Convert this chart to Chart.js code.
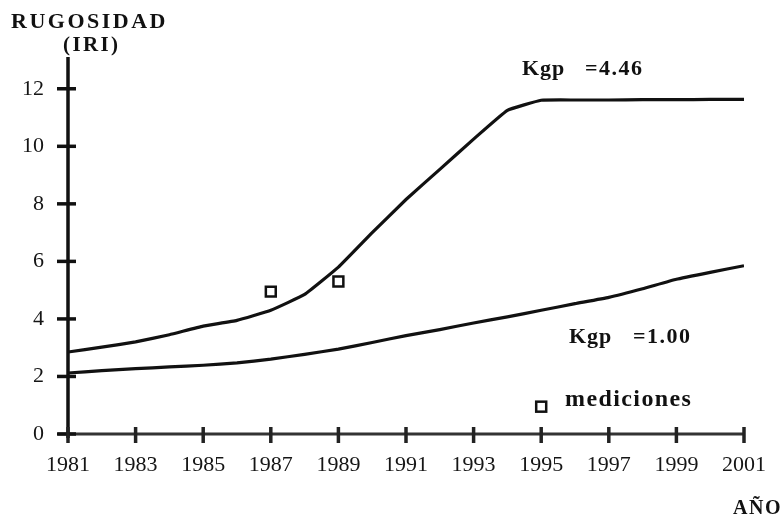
<!DOCTYPE html>
<html>
<head>
<meta charset="utf-8">
<script src="https://cdn.jsdelivr.net/npm/chart.js@4.4.1/dist/chart.umd.min.js"></script>
<style>
    html, body { margin: 0; padding: 0; background: #fff; }
    #wrap { position: relative; width: 784px; height: 518px; }
</style>
</head>
<body>
<div id="wrap"><canvas id="chart"></canvas></div>
<script>
// Data
const years = [1981, 1982, 1983, 1984, 1985, 1986, 1987, 1988, 1989, 1990, 1991,
               1992, 1993, 1994, 1995, 1996, 1997, 1998, 1999, 2000, 2001];
const kgpHigh = [2.85, 3.02, 3.2, 3.45, 3.75, 3.95, 4.3, 4.85, 5.8, 7.0, 8.15,
                 9.2, 10.25, 11.25, 11.6, 11.61, 11.61, 11.62, 11.62, 11.63, 11.63];
const kgpLow = [2.12, 2.2, 2.27, 2.33, 2.39, 2.47, 2.6, 2.77, 2.95, 3.18, 3.42,
                3.63, 3.86, 4.07, 4.3, 4.53, 4.75, 5.05, 5.38, 5.62, 5.85];
const measureYears = [1987, 1989];
const measureValues = [4.95, 5.3];
const xTicks = [1981, 1983, 1985, 1987, 1989, 1991, 1993, 1995, 1997, 1999, 2001];
const yTicks = [0, 2, 4, 6, 8, 10, 12];

const INK = '#111';
const SERIF = '"Liberation Serif", "DejaVu Serif", serif';

function drawSquare(ctx, x, y) {
    ctx.save();
    ctx.strokeStyle = INK;
    ctx.lineWidth = 2.5;
    ctx.fillStyle = '#fff';
    ctx.fillRect(x - 5, y - 5, 10, 10);
    ctx.strokeRect(x - 5, y - 5, 10, 10);
    ctx.restore();
}

function label(ctx, text, x, y, size, spacing) {
    ctx.font = `bold ${size}px ${SERIF}`;
    ctx.letterSpacing = spacing + 'px';
    ctx.fillText(text, x, y);
}

// Axes drawn as crossing tick marks, like the original figure
const axesPlugin = {
    id: 'axesPlugin',
    beforeDatasetsDraw(chart) {
        const { ctx, chartArea, scales } = chart;
        const left = chartArea.left;
        const bottom = scales.y.getPixelForValue(0);
        ctx.save();
        ctx.lineCap = 'butt';

        // x axis
        ctx.strokeStyle = '#333';
        ctx.lineWidth = 3;
        ctx.beginPath();
        ctx.moveTo(left - 10, bottom);
        ctx.lineTo(chartArea.right, bottom);
        ctx.stroke();

        // y axis
        ctx.strokeStyle = INK;
        ctx.lineWidth = 3.5;
        ctx.beginPath();
        ctx.moveTo(left, scales.y.getPixelForValue(13.1));
        ctx.lineTo(left, bottom + 4);
        ctx.stroke();

        yTicks.forEach(v => {
            const y = scales.y.getPixelForValue(v);
            ctx.beginPath();
            ctx.moveTo(left - 11, y);
            ctx.lineTo(left + 8, y);
            ctx.stroke();
        });

        ctx.strokeStyle = '#222';
        xTicks.forEach(v => {
            const x = scales.x.getPixelForValue(v);
            ctx.beginPath();
            ctx.moveTo(x, bottom - 7);
            ctx.lineTo(x, bottom + 9);
            ctx.stroke();
        });
        ctx.restore();
    },
    afterDraw(chart) {
        const { ctx, scales } = chart;
        ctx.save();
        ctx.fillStyle = INK;
        ctx.textBaseline = 'alphabetic';
        ctx.textAlign = 'left';

        label(ctx, 'RUGOSIDAD', 11, 28, 22, 2.5);
        label(ctx, '(IRI)', 63, 51, 21, 2.4);
        label(ctx, 'Kgp', 522, 75, 22, 1);
        label(ctx, '=4.46', 585, 75, 22, 1.5);
        label(ctx, 'Kgp', 569, 343, 22, 1);
        label(ctx, '=1.00', 633, 343, 22, 1.5);
        label(ctx, 'mediciones', 565, 406, 24, 1.4);
        label(ctx, 'AÑO', 733, 514, 20, 1.5);

        // legend marker for the measurements
        drawSquare(ctx, scales.x.getPixelForValue(1995), scales.y.getPixelForValue(0.95));
        ctx.restore();
    }
};

const tickFont = { family: SERIF, size: 22 };

new Chart(document.getElementById('chart'), {
    type: 'line',
    data: {
        datasets: [
            {
                label: 'Kgp = 4.46',
                data: years.map((y, i) => ({ x: y, y: kgpHigh[i] })),
                borderColor: INK,
                borderWidth: 3.2,
                pointRadius: 0,
                tension: 0.1,
                fill: false
            },
            {
                label: 'Kgp = 1.00',
                data: years.map((y, i) => ({ x: y, y: kgpLow[i] })),
                borderColor: INK,
                borderWidth: 3.2,
                pointRadius: 0,
                tension: 0.1,
                fill: false
            },
            {
                label: 'mediciones',
                type: 'scatter',
                data: measureYears.map((y, i) => ({ x: y, y: measureValues[i] })),
                pointStyle: 'rect',
                pointRadius: 7,
                borderColor: INK,
                borderWidth: 2.5,
                backgroundColor: '#fff',
                showLine: false
            }
        ]
    },
    options: {
        responsive: true,
        maintainAspectRatio: false,
        animation: false,
        events: [],
        layout: { padding: { top: 60, right: 34, left: 0, bottom: 0 } },
        plugins: {
            legend: { display: false },
            tooltip: { enabled: false }
        },
        scales: {
            x: {
                type: 'linear',
                min: 1981,
                max: 2001,
                afterBuildTicks: s => { s.ticks = xTicks.map(v => ({ value: v })); },
                afterFit: s => { s.height = 84; },
                grid: { display: false, drawTicks: false },
                border: { display: false },
                ticks: {
                    callback: v => String(v),
                    font: tickFont,
                    color: '#151515',
                    padding: 18,
                    maxRotation: 0,
                    autoSkip: false
                }
            },
            y: {
                min: 0,
                max: 13,
                afterBuildTicks: s => { s.ticks = yTicks.map(v => ({ value: v })); },
                afterFit: s => { s.width = 68; },
                grid: { display: false, drawTicks: false },
                border: { display: false },
                ticks: {
                    font: tickFont,
                    color: '#151515',
                    padding: 24
                }
            }
        }
    },
    plugins: [axesPlugin]
});
</script>
</body>
</html>
